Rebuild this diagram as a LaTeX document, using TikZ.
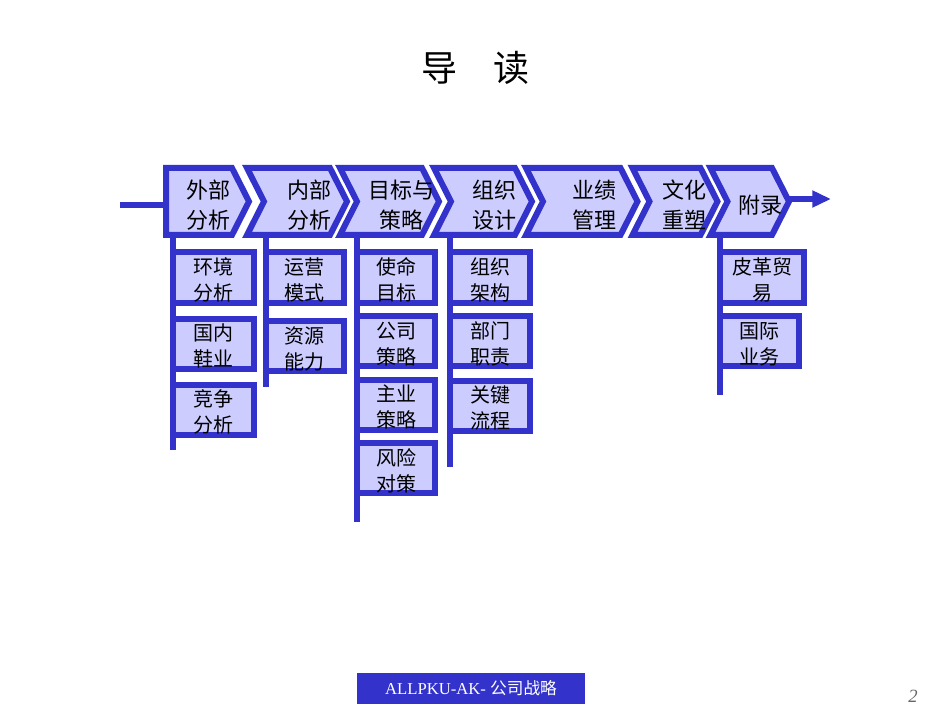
\documentclass[tikz,border=0pt]{standalone}
\usepackage{fontspec}
\setmainfont{Liberation Serif}
\newfontfamily\cjk{Noto Sans CJK SC}
\usetikzlibrary{arrows.meta}
\definecolor{chevblue}{RGB}{51,51,204}
\definecolor{chevfill}{RGB}{204,204,255}
\tikzset{
  chevron/.style={draw=chevblue, fill=chevfill, line width=4.5pt},
  spine/.style={draw=chevblue, line width=4.5pt},
  steptext/.style={inner sep=0pt, align=center, font=\cjk\fontsize{16.5}{22.5}\selectfont},
  subbox/.style={draw=chevblue, fill=chevfill, line width=4.5pt, outer sep=0pt, inner sep=0pt,
    anchor=west, minimum width=60pt, minimum height=37.5pt, align=center,
    font=\cjk\fontsize{15}{19.5}\selectfont, text height=35pt, text depth=0pt},
}
\begin{document}
\begin{tikzpicture}[x=0.75pt,y=0.75pt,yscale=-1,xscale=1]
\useasboundingbox (0,0) rectangle (950,713);

% Title
\node (title) at (475,68) [inner sep=0pt] {\cjk\fontsize{27}{30}\selectfont 导\hspace{1em}读};

%Straight Lines: incoming line
\coordinate (in) at (120,205);
\coordinate (c1w) at (166,205);
\draw [spine] (in) -- (c1w);

%Shape: Chevron 1
\draw [chevron] (166,168) -- (232,168) -- (249,201.5) -- (232,235) -- (166,235) -- cycle;
%Shape: Chevron 2
\draw [chevron] (247,168) -- (330,168) -- (347,201.5) -- (330,235) -- (247,235) -- (264,201.5) -- cycle;
%Shape: Chevron 3
\draw [chevron] (340,168) -- (422,168) -- (439,201.5) -- (422,235) -- (340,235) -- (357,201.5) -- cycle;
%Shape: Chevron 4
\draw [chevron] (434,168) -- (515,168) -- (532,201.5) -- (515,235) -- (434,235) -- (451,201.5) -- cycle;
%Shape: Chevron 5
\draw [chevron] (526,168) -- (620.5,168) -- (637.5,201.5) -- (620.5,235) -- (526,235) -- (543,201.5) -- cycle;
%Shape: Chevron 6
\draw [chevron] (632.5,168) -- (700.5,168) -- (717.5,201.5) -- (700.5,235) -- (632.5,235) -- (649.5,201.5) -- cycle;
%Shape: Chevron 7
\draw [chevron] (710.5,168) -- (772,168) -- (789,201.5) -- (772,235) -- (710.5,235) -- (727.5,201.5) -- cycle;

%Straight Lines: outgoing arrow
\coordinate (c7e) at (789,199);
\coordinate (out) at (831,199);
\draw [spine, -{Triangle[length=14pt,width=12pt]}] (c7e) -- (out);

% Text Node
\node (waibu) at (208,205) [steptext] {外部\\分析};
% Text Node
\node (neibu) at (309,205) [steptext] {内部\\分析};
% Text Node
\node (mubiao) at (401,205) [steptext] {目标与\\策略};
% Text Node
\node (zuzhi) at (494,205) [steptext] {组织\\设计};
% Text Node
\node (yeji) at (594,205) [steptext] {业绩\\管理};
% Text Node
\node (wenhua) at (684,205) [steptext] {文化\\重塑};
% Text Node
\node (fulu) at (760,205) [steptext] {附录};

%Straight Lines: spines
\coordinate (s1) at (172.5,235);
\coordinate (e1) at (172.5,450);
\draw [spine] (s1) -- (e1);
\coordinate (s2) at (265.5,235);
\coordinate (e2) at (265.5,387);
\draw [spine] (s2) -- (e2);
\coordinate (s3) at (357,235);
\coordinate (e3) at (357,522);
\draw [spine] (s3) -- (e3);
\coordinate (s4) at (450,235);
\coordinate (e4) at (450,467);
\draw [spine] (s4) -- (e4);
\coordinate (s7) at (720,235);
\coordinate (e7) at (720,395);
\draw [spine] (s7) -- (e7);

% Boxes: column 1
\node (huanjing) at (172.5,277.5) [subbox, minimum width=61pt] {环境\\分析};
\node (guonei) at (172.5,343.5) [subbox, minimum width=61pt] {国内\\鞋业};
\node (jingzheng) at (172.5,409.5) [subbox, minimum width=61pt] {竞争\\分析};
% Boxes: column 2
\node (yunying) at (265.5,277.5) [subbox, minimum width=59pt] {运营\\模式};
\node (ziyuan) at (265.5,346) [subbox, minimum width=59pt] {资源\\能力};
% Boxes: column 3
\node (shiming) at (357,277.5) [subbox, minimum width=58.5pt] {使命\\目标};
\node (gongsi) at (357,341) [subbox, minimum width=58.5pt] {公司\\策略};
\node (zhuye) at (357,404.5) [subbox, minimum width=58.5pt] {主业\\策略};
\node (fengxian) at (357,468) [subbox, minimum width=58.5pt] {风险\\对策};
% Boxes: column 4
\node (jiagou) at (450,277.5) [subbox] {组织\\架构};
\node (bumen) at (450,341) [subbox] {部门\\职责};
\node (liucheng) at (450,405.5) [subbox] {关键\\流程};
% Boxes: column 7
\node (pige) at (720,277.5) [subbox, minimum width=63pt] {皮革贸\\易};
\node (guoji) at (720,341) [subbox, minimum width=59pt] {国际\\业务};

% Footer
\node (footer) at (471,688.5) [fill=chevblue, minimum width=171pt, minimum height=23.25pt, inner sep=0pt,
  text=white, font=\fontsize{12.5}{14}\selectfont] {ALLPKU-AK- {\cjk 公司战略}};
\node (pagenum) at (913,696) [inner sep=0pt, text=black!60, font=\itshape\fontsize{14}{16}\selectfont] {2};

\end{tikzpicture}
\end{document}
